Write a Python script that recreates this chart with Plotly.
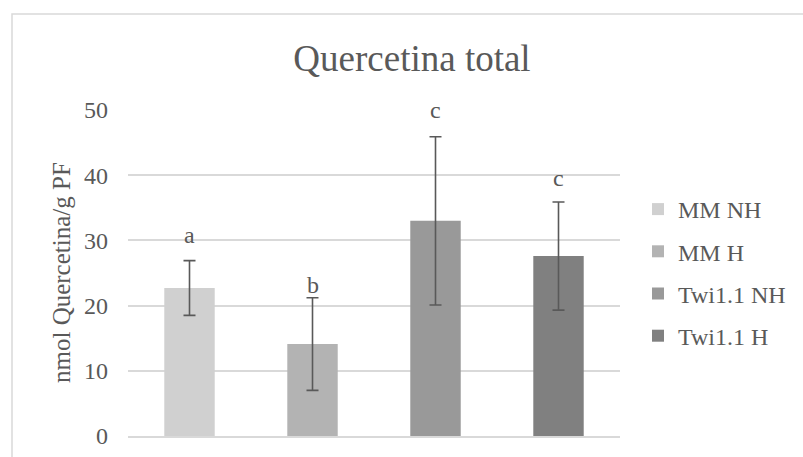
import plotly.graph_objects as go

# ---- data ----
series = ["MM NH", "MM H", "Twi1.1 NH", "Twi1.1 H"]
values = [22.7, 14.1, 33.0, 27.6]
errors = [4.2, 7.1, 12.9, 8.3]
letters = ["a", "b", "c", "c"]
letter_y = [28.5, 20.8, 47.7, 37.2]
colors = ["#d0d0d0", "#b3b3b3", "#999999", "#808080"]
y_ticks = [0, 10, 20, 30, 40, 50]

FONT = "Liberation Serif, Times New Roman, serif"
TXT = "#595959"

W, H = 803, 457
L, R, T, B = 128, 183, 110, 21
pw, ph = W - L - R, H - T - B

def px_x(p):
    return (p - L) / pw

def px_y(p):
    return (H - B - p) / ph

fig = go.Figure()
for name, v, e, c in zip(series, values, errors, colors):
    fig.add_trace(go.Bar(
        x=[name], y=[v], name=name, legendgroup=name,
        marker=dict(color=c, line=dict(width=0)),
        width=0.41,
        error_y=dict(type="data", array=[e], visible=True,
                     color="#595959", thickness=1.6, width=6),
    ))

for name, lt, ly in zip(series, letters, letter_y):
    fig.add_annotation(x=name, y=ly, text=lt, showarrow=False,
                       xanchor="center", yanchor="bottom",
                       font=dict(family=FONT, size=24, color=TXT))

# y-axis title
fig.add_annotation(xref="paper", yref="paper", x=px_x(61), y=0.5,
                   text="nmol Quercetina/g PF", textangle=-90, showarrow=False,
                   xanchor="center", yanchor="middle",
                   font=dict(family=FONT, size=25, color=TXT))

# chart border
fig.add_shape(type="rect", xref="paper", yref="paper",
              x0=px_x(12), x1=px_x(810), y0=px_y(465), y1=px_y(14),
              line=dict(color="#d9d9d9", width=1.5), layer="below")

fig.update_layout(
    width=W, height=H,
    margin=dict(l=L, r=R, t=T, b=B, pad=0, autoexpand=False),
    paper_bgcolor="white", plot_bgcolor="white",
    barmode="overlay",
    title=dict(text="Quercetina total", xref="container", x=412 / W,
               xanchor="center", yref="container", y=1 - 58 / H,
               yanchor="middle",
               font=dict(family=FONT, size=37, color=TXT)),
    font=dict(family=FONT, size=24, color=TXT),
    showlegend=True,
    legend=dict(xref="container", yref="container",
                x=(678 - 40) / W, xanchor="left",
                y=1 - 187 / H, yanchor="top",
                font=dict(family=FONT, size=24, color=TXT),
                tracegroupgap=8, bgcolor="rgba(0,0,0,0)",
                traceorder="grouped"),
    xaxis=dict(type="category", categoryorder="array", categoryarray=series,
               range=[-0.5, 3.5], showticklabels=False, showgrid=False,
               zeroline=False, showline=True, linecolor="#d9d9d9", linewidth=1.5,
               ticks="", automargin=False),
    yaxis=dict(range=[0, 50], tickvals=y_ticks, showgrid=True,
               gridcolor="#d9d9d9", gridwidth=1.5, zeroline=False,
               showline=False, ticks="", ticklabelstandoff=19, automargin=False,
               tickfont=dict(family=FONT, size=24, color=TXT)),
)

fig.write_html("out.html",
               config={"displayModeBar": False},
               post_script="document.body.style.margin='0px';"
                           "document.body.style.overflow='hidden';")
